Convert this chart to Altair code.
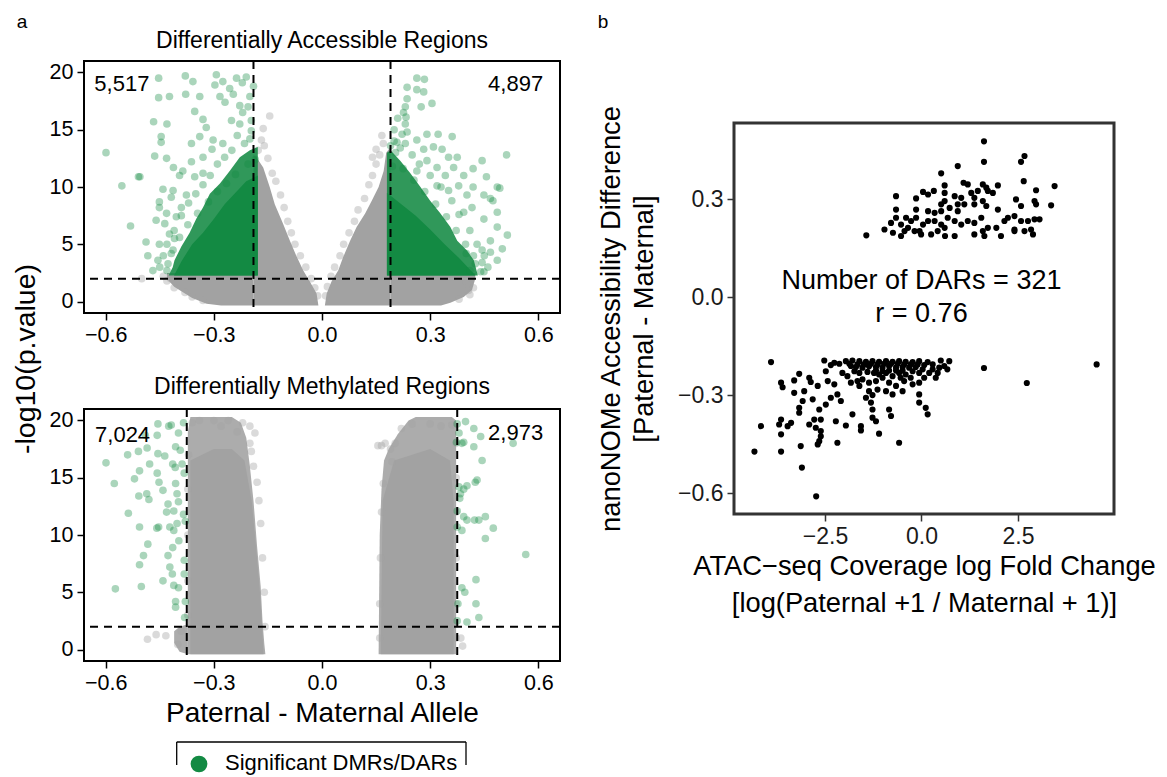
import altair as alt
import pandas as pd

FONT = "Liberation Sans"
GREEN = "#138a43"
GRAY_DENSE = "#a2a2a2"
GRAY_MID = "#acacac"

# ---------------- text / ticks ----------------
PANEL_TITLES = ["Differentially Accessible Regions", "Differentially Methylated Regions"]
Y_TITLE_LEFT = "-log10(p.value)"
VOLCANO_X_TICKS = [-0.6, -0.3, 0.0, 0.3, 0.6]
VOLCANO_Y_TICKS = [0, 5, 10, 15, 20]
DAR_COUNTS = [("5,517", -0.555, 19.0), ("4,897", 0.537, 19.0)]
DMR_COUNTS = [("7,024", -0.553, 18.7), ("2,973", 0.537, 18.9)]
DAR_CUTOFF = 0.19
DMR_CUTOFF = 0.375
P_CUTOFF = 2.0
SCATTER_X_TICKS = [-2.5, 0.0, 2.5]
SCATTER_Y_TICKS = [-0.6, -0.3, 0.0, 0.3]
SCATTER_NOTE = [("Number of DARs = 321", 0.0, 0.049), ("r = 0.76", 0.0, -0.052)]
LEGEND_LABEL = "Significant DMRs/DARs"

# ---------------- DAR volcano (top) ----------------
DAR_SIG_LEFT = [
    (-0.599, 13.0), (-0.555, 10.1), (-0.531, 6.6), (-0.509, 10.9), (-0.505, 10.9),
    (-0.453, 19.5), (-0.453, 17.8), (-0.423, 17.9), (-0.467, 15.7), (-0.446, 14.4),
    (-0.446, 13.9), (-0.430, 15.5), (-0.464, 12.7), (-0.431, 12.5), (-0.412, 11.7),
    (-0.379, 19.7), (-0.358, 19.2), (-0.378, 18.1), (-0.339, 17.9), (-0.353, 16.6),
    (-0.330, 15.9), (-0.321, 15.2), (-0.293, 19.8), (-0.297, 18.9), (-0.275, 19.2),
    (-0.237, 19.5), (-0.221, 19.1), (-0.200, 17.9), (-0.256, 18.6), (-0.246, 18.1),
    (-0.283, 17.9), (-0.269, 17.4), (-0.228, 17.1), (-0.251, 15.8), (-0.228, 15.5),
    (-0.196, 15.8), (-0.196, 14.9), (-0.302, 14.1), (-0.339, 14.4), (-0.362, 13.8),
    (-0.305, 13.3), (-0.275, 13.8), (-0.330, 12.6), (-0.362, 12.2), (-0.386, 11.4),
    (-0.353, 10.9), (-0.330, 11.2), (-0.395, 11.0), (-0.441, 9.8), (-0.413, 9.7),
    (-0.451, 8.7), (-0.451, 8.2), (-0.418, 9.1), (-0.376, 9.3), (-0.390, 8.2),
    (-0.460, 7.1), (-0.431, 7.7), (-0.436, 6.8), (-0.404, 7.4), (-0.488, 5.2),
    (-0.451, 5.0), (-0.483, 4.0), (-0.455, 3.6), (-0.469, 2.7), (-0.427, 3.3),
    (-0.413, 4.5), (-0.409, 5.5), (-0.423, 5.9),
    (-0.200, 14.2), (-0.215, 13.8), (-0.235, 14.5), (-0.250, 13.2), (-0.270, 12.6),
    (-0.290, 12.0), (-0.310, 11.0), (-0.330, 10.2), (-0.350, 9.4), (-0.370, 8.6),
    (-0.390, 7.5), (-0.410, 6.2), (-0.430, 5.0), (-0.440, 4.0), (-0.450, 3.0),
    (-0.430, 2.7), (-0.220, 16.5), (-0.205, 17.0), (-0.190, 18.8), (-0.210, 19.6),
    (-0.185, 12.4), (-0.205, 12.0), (-0.240, 11.1), (-0.265, 10.3), (-0.290, 9.6),
    (-0.315, 8.7), (-0.345, 7.7), (-0.372, 6.7), (-0.395, 5.6), (-0.418, 4.2),
]
DAR_SIG_RIGHT = [
    (0.263, 19.5), (0.284, 19.4), (0.236, 18.7), (0.263, 18.5), (0.282, 18.3),
    (0.305, 17.3), (0.275, 17.0), (0.236, 17.7), (0.231, 17.0), (0.226, 16.5),
    (0.233, 16.1), (0.231, 15.5), (0.236, 14.8), (0.208, 13.9), (0.231, 13.8),
    (0.263, 14.1), (0.291, 14.6), (0.322, 14.6), (0.361, 14.4), (0.282, 13.3),
    (0.309, 13.5), (0.333, 13.3), (0.351, 12.6), (0.375, 12.6), (0.291, 12.3),
    (0.319, 11.7), (0.263, 11.4), (0.379, 10.1), (0.351, 9.7), (0.444, 12.3),
    (0.419, 11.6), (0.456, 10.9), (0.419, 10.0), (0.449, 9.3), (0.486, 10.0),
    (0.493, 9.9), (0.512, 12.8), (0.467, 9.0), (0.474, 8.8), (0.402, 9.3),
    (0.416, 8.2), (0.393, 7.8), (0.449, 7.2), (0.486, 7.8), (0.486, 6.5),
    (0.514, 5.8), (0.467, 5.3), (0.500, 4.6), (0.467, 4.3), (0.486, 3.6),
    (0.444, 4.5), (0.444, 3.4), (0.449, 2.6), (0.425, 3.3), (0.400, 4.2),
    (0.365, 11.7), (0.342, 11.0), (0.393, 11.0), (0.319, 10.1), (0.222, 14.6),
    (0.217, 13.4), (0.204, 13.0),
    (0.200, 14.0), (0.200, 15.0), (0.210, 16.0), (0.190, 13.6), (0.250, 12.8),
    (0.270, 12.0), (0.300, 11.0), (0.330, 10.0), (0.360, 8.8), (0.380, 7.6),
    (0.410, 6.2), (0.430, 5.0), (0.450, 4.0), (0.460, 3.0), (0.440, 2.6), (0.410, 2.7),
    (0.195, 11.8), (0.225, 11.6), (0.255, 10.6), (0.285, 9.6), (0.315, 8.5),
    (0.345, 7.4), (0.372, 6.2), (0.398, 5.0), (0.420, 4.0),
]
DAR_NONSIG_EDGE = [
    (-0.145, 16.2), (-0.163, 15.1), (-0.168, 14.1), (-0.177, 13.2), (-0.160, 13.6),
    (-0.150, 12.5), (-0.138, 11.2), (-0.128, 10.5), (-0.115, 9.3), (-0.105, 8.2),
    (-0.095, 7.0), (-0.085, 6.0), (-0.075, 5.0), (-0.060, 4.0), (-0.045, 3.0),
    (-0.030, 2.0), (-0.020, 1.2), (-0.012, 0.5),
    (-0.500, 2.0), (-0.430, 1.8), (-0.410, 1.2), (-0.380, 0.8), (-0.360, 0.4),
    (-0.330, 0.1), (-0.440, 2.2), (-0.420, 2.0),
    (0.166, 14.5), (0.170, 13.8), (0.160, 12.8), (0.150, 12.0), (0.140, 11.0),
    (0.130, 10.2), (0.118, 9.0), (0.100, 8.0), (0.090, 7.0), (0.075, 6.0),
    (0.060, 5.0), (0.050, 4.0), (0.035, 3.0), (0.025, 2.2), (0.015, 1.3),
    (0.010, 0.5), (0.140, 12.6), (0.150, 13.3),
    (0.400, 1.8), (0.420, 1.2), (0.410, 0.6), (0.380, 0.2), (0.406, 0.96),
]
# dense clouds: (name, x, upper edge, lower edge)
DAR_GRAY_DENSE = [
    ("l", [-0.190, -0.182, -0.163, -0.145, -0.131, -0.108, -0.089, -0.070, -0.052, -0.033, -0.015, -0.010],
          [12.8, 12.6, 11.7, 10.0, 8.5, 6.8, 5.3, 3.9, 2.7, 1.7, 0.7, -0.35],
          [-0.35, -0.35, -0.35, -0.35, -0.35, -0.35, -0.35, -0.35, -0.35, -0.35, -0.35, -0.35]),
    ("lb", [-0.430, -0.410, -0.390, -0.360, -0.320, -0.280, -0.190],
           [2.5, 2.5, 2.5, 2.5, 2.5, 2.5, 2.5],
           [2.0, 1.3, 0.9, 0.3, -0.2, -0.35, -0.35]),
    ("r", [0.008, 0.013, 0.027, 0.045, 0.059, 0.078, 0.096, 0.120, 0.138, 0.157, 0.171, 0.178, 0.190],
          [-0.35, 0.7, 1.8, 2.7, 3.9, 5.3, 6.5, 7.7, 8.8, 10.0, 11.4, 13.0, 13.5],
          [-0.35, -0.35, -0.35, -0.35, -0.35, -0.35, -0.35, -0.35, -0.35, -0.35, -0.35, -0.35, -0.35]),
    ("rb", [0.190, 0.330, 0.356, 0.393, 0.416, 0.425],
           [2.5, 2.5, 2.5, 2.5, 2.5, 2.5],
           [-0.35, -0.35, -0.1, 0.4, 1.0, 2.0]),
]
DAR_GREEN_MID = [
    ("l", [-0.425, -0.414, -0.409, -0.390, -0.367, -0.349, -0.330, -0.311, -0.283, -0.256, -0.228, -0.200, -0.178],
          [2.3, 3.0, 3.6, 4.8, 6.0, 7.2, 8.2, 9.4, 10.3, 11.4, 12.6, 13.2, 13.5],
          [2.27, 2.27, 2.27, 2.27, 2.27, 2.27, 2.27, 2.27, 2.27, 2.27, 2.27, 2.27, 2.27]),
    ("r", [0.180, 0.190, 0.217, 0.245, 0.273, 0.300, 0.328, 0.356, 0.375, 0.402, 0.421, 0.432],
          [13.0, 13.2, 12.3, 11.2, 10.0, 8.8, 7.7, 6.5, 5.3, 4.45, 3.6, 2.3],
          [2.27, 2.27, 2.27, 2.27, 2.27, 2.27, 2.27, 2.27, 2.27, 2.27, 2.27, 2.27]),
]
DAR_GREEN_DENSE = [
    ("l", [-0.410, -0.390, -0.360, -0.330, -0.300, -0.270, -0.240, -0.210, -0.178],
          [2.3, 3.5, 5.0, 6.0, 7.2, 8.5, 9.5, 10.5, 11.0],
          [2.27, 2.27, 2.27, 2.27, 2.27, 2.27, 2.27, 2.27, 2.27]),
    ("r", [0.180, 0.220, 0.260, 0.300, 0.340, 0.380, 0.410, 0.425],
          [9.5, 8.5, 7.5, 6.3, 5.0, 3.8, 2.8, 2.3],
          [2.27, 2.27, 2.27, 2.27, 2.27, 2.27, 2.27, 2.27]),
]

# ---------------- DMR volcano (bottom) ----------------
DMR_SIG_LEFT = [
    (-0.599, 16.3), (-0.576, 14.5), (-0.573, 5.3), (-0.539, 17.0), (-0.537, 11.9),
    (-0.520, 14.9), (-0.509, 17.3), (-0.506, 15.6), (-0.506, 10.7), (-0.506, 7.4),
    (-0.501, 5.5), (-0.508, 13.4), (-0.490, 18.7), (-0.485, 17.6), (-0.478, 16.2),
    (-0.486, 13.6), (-0.480, 13.1), (-0.483, 9.2), (-0.495, 8.2), (-0.455, 19.7),
    (-0.457, 18.7), (-0.455, 17.1), (-0.457, 15.4), (-0.452, 14.6), (-0.453, 10.7),
    (-0.458, 10.6), (-0.441, 13.9), (-0.436, 16.9), (-0.425, 19.5), (-0.418, 19.6),
    (-0.431, 12.0), (-0.427, 8.2), (-0.422, 7.2), (-0.415, 6.6), (-0.441, 6.0),
    (-0.411, 5.6), (-0.406, 4.2), (-0.414, 16.2), (-0.407, 15.9), (-0.406, 17.7),
    (-0.406, 14.5), (-0.402, 13.6), (-0.398, 12.9), (-0.411, 12.1), (-0.402, 11.0),
    (-0.411, 10.4), (-0.397, 9.5), (-0.414, 8.9), (-0.393, 17.4), (-0.398, 18.9),
    (-0.384, 19.8), (-0.388, 16.2), (-0.382, 15.4), (-0.384, 11.8), (-0.379, 11.2),
    (-0.382, 7.8), (-0.382, 6.6), (-0.379, 4.2), (-0.398, 5.4), (-0.406, 3.7),
    (-0.381, 2.8), (-0.422, 10.7), (-0.427, 12.7),
]
DMR_SIG_RIGHT = [
    (0.375, 19.7), (0.398, 19.9), (0.421, 19.3), (0.380, 18.9), (0.373, 18.1),
    (0.388, 18.0), (0.393, 18.1), (0.421, 17.7), (0.440, 18.6), (0.530, 18.0),
    (0.444, 16.5), (0.380, 14.2), (0.393, 14.0), (0.402, 14.3), (0.425, 14.6),
    (0.430, 14.8), (0.384, 13.6), (0.382, 13.2), (0.375, 12.1), (0.393, 11.6),
    (0.402, 11.3), (0.423, 11.3), (0.435, 11.3), (0.453, 11.6), (0.375, 10.7),
    (0.388, 10.4), (0.475, 10.6), (0.453, 9.7), (0.565, 8.3), (0.427, 6.1),
    (0.388, 5.4), (0.396, 5.0), (0.377, 4.0), (0.427, 4.0), (0.375, 2.5),
    (0.402, 2.4), (0.435, 2.8),
]
DMR_NONSIG_EDGE = [
    (-0.484, 0.9), (-0.433, 1.2), (-0.400, 0.45), (-0.460, 1.3), (-0.390, 1.6),
    (-0.186, 18.9), (-0.200, 19.5), (-0.196, 17.3), (-0.180, 14.6), (-0.175, 13.0),
    (-0.170, 11.0), (-0.165, 8.0), (-0.160, 5.0), (-0.158, 2.0), (-0.360, 19.8),
    (-0.370, 17.0), (-0.372, 14.0), (-0.372, 10.0), (-0.372, 6.0), (-0.372, 3.0),
    (-0.200, 18.0), (-0.190, 16.0), (-0.340, 20.0), (-0.300, 20.0), (-0.260, 20.0),
    (-0.220, 19.8), (-0.235, 19.0), (-0.280, 19.5),
    (0.175, 18.0), (0.203, 18.0), (0.194, 16.4), (0.170, 14.5), (0.165, 12.0),
    (0.162, 8.0), (0.160, 4.0), (0.160, 1.0), (0.250, 19.7), (0.300, 19.7),
    (0.330, 19.5), (0.360, 19.6), (0.372, 18.0), (0.372, 15.0), (0.372, 12.0),
    (0.372, 8.0), (0.372, 4.0), (0.372, 1.0), (0.390, 0.3), (0.385, 1.0),
    (0.220, 19.3), (0.190, 17.5), (0.155, 17.8), (0.165, 17.8),
]
DMR_GRAY_MID = [
    ("l", [-0.372, -0.365, -0.300, -0.250, -0.225, -0.210, -0.200, -0.190, -0.180, -0.170, -0.165, -0.160, -0.157],
          [19.0, 20.3, 20.3, 20.3, 19.8, 18.5, 16.0, 13.0, 9.0, 5.5, 2.5, 0.5, -0.4],
          [-0.4, -0.4, -0.4, -0.4, -0.4, -0.4, -0.4, -0.4, -0.4, -0.4, -0.4, -0.4, -0.4]),
    ("l2", [-0.410, -0.395, -0.372], [1.6, 2.0, 2.2], [0.6, -0.2, -0.4]),
    ("r", [0.157, 0.160, 0.165, 0.172, 0.185, 0.210, 0.240, 0.260, 0.360, 0.372],
          [-0.4, 10.0, 14.0, 16.5, 17.5, 18.8, 20.0, 20.3, 20.3, 20.0],
          [-0.4, -0.4, -0.4, -0.4, -0.4, -0.4, -0.4, -0.4, -0.4, -0.4]),
]
DMR_GRAY_DENSE = [
    ("l", [-0.365, -0.300, -0.250, -0.215, -0.195, -0.183, -0.172, -0.166, -0.162],
          [16.5, 17.5, 17.5, 16.5, 13.0, 9.0, 5.0, 2.0, -0.4],
          [-0.4, -0.4, -0.4, -0.4, -0.4, -0.4, -0.4, -0.4, -0.4]),
    ("r", [0.163, 0.168, 0.200, 0.300, 0.355, 0.365],
          [-0.4, 13.0, 16.5, 17.5, 16.5, 13.0],
          [-0.4, -0.4, -0.4, -0.4, -0.4, -0.4]),
]

# ---------------- ATAC vs nanoNOMe scatter (right) ----------------
DARS_UPPER = [
    (-1.43, 0.189), (1.62, 0.477), (1.62, 0.414), (2.67, 0.432), (2.58, 0.414),
    (0.94, 0.401), (0.51, 0.379), (2.65, 0.355), (3.45, 0.340), (1.98, 0.342),
    (0.60, 0.342), (1.09, 0.350), (1.20, 0.345), (1.59, 0.345), (1.68, 0.335),
    (-0.66, 0.309), (-0.14, 0.302), (0.04, 0.322), (0.17, 0.314), (0.32, 0.325),
    (0.60, 0.319), (0.60, 0.294), (0.86, 0.309), (1.03, 0.304), (1.29, 0.319),
    (1.37, 0.304), (1.46, 0.325), (1.72, 0.325), (1.85, 0.319), (1.37, 0.284),
    (1.59, 0.294), (1.68, 0.279), (2.97, 0.327), (2.45, 0.299), (2.93, 0.294),
    (3.36, 0.281), (2.97, 0.284), (2.58, 0.279), (-0.66, 0.268), (-0.14, 0.268),
    (0.51, 0.284), (0.73, 0.273), (0.94, 0.284), (1.11, 0.284), (0.51, 0.263),
    (0.34, 0.258), (0.17, 0.263), (0.94, 0.263), (1.98, 0.268), (-0.66, 0.243),
    (-0.14, 0.243), (-0.40, 0.243), (-0.27, 0.233), (-0.53, 0.222), (-0.79, 0.227),
    (-0.96, 0.207), (-0.74, 0.197), (-0.53, 0.187), (-0.35, 0.212), (-0.18, 0.202),
    (-0.01, 0.192), (0.17, 0.233), (0.34, 0.233), (0.51, 0.222), (0.68, 0.243),
    (0.86, 0.233), (1.03, 0.222), (1.20, 0.233), (1.37, 0.227), (1.55, 0.243),
    (1.72, 0.212), (1.59, 0.202), (1.94, 0.212), (2.06, 0.187), (2.15, 0.233),
    (2.24, 0.243), (2.41, 0.248), (2.41, 0.207), (2.58, 0.233), (2.76, 0.233),
    (2.67, 0.202), (2.93, 0.238), (3.06, 0.238), (2.84, 0.207), (2.89, 0.192),
    (0.86, 0.187), (0.61, 0.187), (0.25, 0.192), (1.37, 0.192), (1.63, 0.187),
    (0.42, 0.202), (0.60, 0.212), (0.04, 0.222), (-0.05, 0.202), (-0.44, 0.202),
    (2.41, 0.202),
]
DARS_LOWER = [
    (-3.90, -0.199), (-2.52, -0.194), (-1.96, -0.196), (-1.79, -0.194), (-1.61, -0.196),
    (-1.44, -0.198), (-1.27, -0.196), (-1.10, -0.198), (-0.92, -0.196), (-0.75, -0.198),
    (-0.58, -0.196), (-0.41, -0.198), (-0.23, -0.199), (-0.06, -0.196), (0.16, -0.199),
    (0.50, -0.194), (0.72, -0.196), (0.67, -0.221), (0.46, -0.216), (-2.35, -0.208),
    (-1.83, -0.211), (-1.70, -0.214), (-1.53, -0.216), (-1.36, -0.212), (-1.18, -0.214),
    (-1.01, -0.216), (-0.84, -0.211), (-0.66, -0.216), (-0.49, -0.214), (-0.32, -0.216),
    (-0.15, -0.214), (0.03, -0.221), (0.29, -0.221), (-2.48, -0.227), (-2.05, -0.232),
    (-1.92, -0.242), (-1.61, -0.232), (-1.40, -0.229), (-1.23, -0.232), (-1.10, -0.237),
    (-0.92, -0.232), (-0.75, -0.242), (-0.58, -0.232), (-0.41, -0.237), (-0.28, -0.247),
    (-0.06, -0.232), (0.07, -0.247), (0.37, -0.247), (0.42, -0.232), (-2.43, -0.257),
    (-2.26, -0.267), (-3.17, -0.235), (-3.30, -0.255), (-3.64, -0.262), (-3.60, -0.276),
    (-2.91, -0.247), (-2.87, -0.260), (-2.69, -0.272), (-1.53, -0.252), (-1.36, -0.262),
    (-1.18, -0.257), (-0.84, -0.262), (-0.66, -0.272), (-0.45, -0.257), (-0.23, -0.267),
    (-0.06, -0.262), (-1.36, -0.288), (-1.14, -0.283), (-0.92, -0.288), (-1.61, -0.272),
    (-1.44, -0.308), (-1.27, -0.300), (-0.49, -0.288), (-0.75, -0.298), (-0.06, -0.298),
    (-3.04, -0.288), (-3.30, -0.293), (-3.08, -0.318), (-3.17, -0.339), (-3.17, -0.354),
    (-2.82, -0.313), (-2.65, -0.344), (-2.48, -0.329), (-2.35, -0.308), (-2.18, -0.298),
    (-2.09, -0.318), (-1.31, -0.323), (-1.27, -0.344), (-0.84, -0.344), (-0.79, -0.364),
    (-0.06, -0.323), (0.11, -0.339), (0.16, -0.359), (-1.79, -0.359), (-1.27, -0.369),
    (-1.18, -0.380), (-2.22, -0.380), (-1.96, -0.393), (-1.57, -0.395), (-1.57, -0.408),
    (-1.10, -0.418), (-2.78, -0.375), (-2.61, -0.375), (-2.74, -0.400), (-2.61, -0.410),
    (-2.61, -0.426), (-2.65, -0.441), (-2.69, -0.451), (-2.91, -0.390), (-2.18, -0.446),
    (-3.64, -0.375), (-3.69, -0.390), (-3.38, -0.385), (-3.47, -0.395), (-4.16, -0.395),
    (-3.64, -0.420), (-4.33, -0.473), (-3.64, -0.473), (-3.13, -0.456), (-3.10, -0.522),
    (-0.58, -0.446), (-2.26, -0.201), (-2.13, -0.204), (-1.87, -0.204), (-1.66, -0.206),
    (-1.49, -0.206), (-1.31, -0.204), (-1.14, -0.206), (-0.97, -0.204), (-0.79, -0.204),
    (-0.62, -0.204), (-0.45, -0.206), (-0.28, -0.206), (-0.10, -0.206), (0.07, -0.208),
    (-1.18, -0.225), (-1.01, -0.227), (-0.84, -0.225), (-0.66, -0.225), (-0.49, -0.225),
    (-0.23, -0.227), (0.20, -0.232), (-1.74, -0.227), (-1.83, -0.262), (-1.66, -0.257),
    (-1.01, -0.247), (-0.54, -0.247), (0.29, -0.206), (0.59, -0.211), (1.62, -0.217),
    (2.73, -0.263), (4.54, -0.206), (-2.73, -0.610),
]


# ---------------- helpers ----------------
def band_frame(polys):
    rows = []
    for name, xs, tops, bots in polys:
        for x, t, b in zip(xs, tops, bots):
            rows.append({"poly": name, "x": x, "y": t, "y2": b})
    return pd.DataFrame(rows)


def point_frame(pairs):
    return pd.DataFrame(pairs, columns=["x", "y"])


one = pd.DataFrame({"k": [0]})


def anchor(px, py):
    # invisible 1px marker that pins the layout bounds of a panel
    return alt.Chart(one).mark_point(shape="square", size=1, filled=True, opacity=0, strokeWidth=0).encode(
        x=alt.value(px), y=alt.value(py))


def label(text, px, py, size, align="center", baseline="middle", angle=0):
    return alt.Chart(pd.DataFrame({"t": [text]})).mark_text(
        font=FONT, fontSize=size, color="black", align=align, baseline=baseline, angle=angle
    ).encode(x=alt.value(px), y=alt.value(py), text="t:N")


def tick_axis(values, fmt, size, tick_color="black", label_color="black", **kw):
    return alt.Axis(values=values, format=fmt, domain=False, grid=False,
                    ticks=True, tickSize=7, tickWidth=1.5, tickColor=tick_color,
                    labelFontSize=size, labelFont=FONT, labelColor=label_color,
                    labelPadding=4, labelFlush=False, labelOverlap=False, **kw)


def volcano(sig, nonsig, gray_mid, gray_dense, green_mid, green_dense, cutoff, counts,
            xaxis, yaxis, extras):
    xs = alt.Scale(domain=[-0.66, 0.66], nice=False, zero=False)
    ys = alt.Scale(domain=[-1, 21], nice=False, zero=False)
    X = alt.X("x:Q", scale=xs, axis=xaxis)
    Y = alt.Y("y:Q", scale=ys, axis=yaxis)
    layers = []
    for polys, color in [(gray_mid, GRAY_MID), (gray_dense, GRAY_DENSE)]:
        if polys:
            layers.append(alt.Chart(band_frame(polys)).mark_area(color=color, opacity=1, interpolate="linear")
                          .encode(X, Y, y2=alt.Y2("y2:Q"), detail="poly:N"))
    layers.append(alt.Chart(point_frame(nonsig)).mark_circle(size=58, color=GRAY_DENSE, opacity=0.4)
                  .encode(X, Y))
    for polys, op in [(green_mid, 0.88), (green_dense, 1.0)]:
        if polys:
            layers.append(alt.Chart(band_frame(polys)).mark_area(color=GREEN, opacity=op, interpolate="linear")
                          .encode(X, Y, y2=alt.Y2("y2:Q"), detail="poly:N"))
    layers.append(alt.Chart(point_frame(sig)).mark_circle(size=58, color=GREEN, opacity=0.36)
                  .encode(X, Y))
    layers.append(alt.Chart(pd.DataFrame({"x": [-cutoff, cutoff]}))
                  .mark_rule(color="black", strokeWidth=2, strokeDash=[8, 6]).encode(X))
    layers.append(alt.Chart(pd.DataFrame({"y": [P_CUTOFF]}))
                  .mark_rule(color="black", strokeWidth=2, strokeDash=[8, 6]).encode(Y))
    layers.append(alt.Chart(pd.DataFrame(counts, columns=["t", "x", "y"]))
                  .mark_text(font=FONT, fontSize=22, color="black", align="center", baseline="middle")
                  .encode(X, Y, text="t:N"))
    layers.extend(extras)
    return alt.layer(*layers).properties(
        width=476, height=252,
        view=alt.ViewBackground(stroke="black", strokeWidth=2),
    )


# ---------------- first column: y title + panel letter ----------------
title_col = alt.layer(
    label("a", 13, -39, 19),
    label(Y_TITLE_LEFT, 17, 298, 28.5, angle=270),
).properties(width=32, height=500)

# ---------------- volcano panels ----------------
top_x_axis = tick_axis(VOLCANO_X_TICKS, ".1f", 21.5, title=None)
bottom_x_axis = tick_axis(VOLCANO_X_TICKS, ".1f", 21.5, title="Paternal - Maternal Allele",
                          titleFont=FONT, titleFontSize=28, titleFontWeight="normal", titleColor="black",
                          titleX=238, titleY=60, titleBaseline="alphabetic", titleAlign="center")
v_y_axis = tick_axis(VOLCANO_Y_TICKS, "d", 21.5, title=None)

dar = volcano(DAR_SIG_LEFT + DAR_SIG_RIGHT, DAR_NONSIG_EDGE, [], DAR_GRAY_DENSE,
              DAR_GREEN_MID, DAR_GREEN_DENSE, DAR_CUTOFF, DAR_COUNTS,
              top_x_axis, v_y_axis,
              [label(PANEL_TITLES[0], 238, -13, 23, baseline="alphabetic"),
               anchor(200, -51.5), anchor(-40.5, 100), anchor(507, 100), anchor(200, 292)])

legend_layers = [
    alt.Chart(one).mark_rule(color="black", strokeWidth=1.3).encode(
        x=alt.value(92.7), x2=alt.value(382), y=alt.value(333)),
    alt.Chart(one).mark_rule(color="black", strokeWidth=1.3).encode(
        x=alt.value(92.7), y=alt.value(333), y2=alt.value(356)),
    alt.Chart(one).mark_rule(color="black", strokeWidth=1.3).encode(
        x=alt.value(382), y=alt.value(333), y2=alt.value(356)),
    alt.Chart(one).mark_circle(size=280, color=GREEN, opacity=1).encode(
        x=alt.value(115), y=alt.value(355)),
    label(LEGEND_LABEL, 141, 361, 22, align="left", baseline="alphabetic"),
]
dmr = volcano(DMR_SIG_LEFT + DMR_SIG_RIGHT, DMR_NONSIG_EDGE, DMR_GRAY_MID, DMR_GRAY_DENSE,
              [], [], DMR_CUTOFF, DMR_COUNTS,
              bottom_x_axis, v_y_axis,
              [label(PANEL_TITLES[1], 238, -15, 23, baseline="alphabetic"),
               anchor(200, -40), anchor(-40.5, 100)] + legend_layers)

left_col = alt.vconcat(dar, dmr, spacing=12)

# ---------------- right panel (plot area starts 62px below the row top) ----------------
R_TOP = 62
R_H = 391
sx = alt.Scale(domain=[-4.86, 4.99], nice=False, zero=False)
sy = alt.Scale(domain=[-0.664, 0.533], nice=False, zero=False, range=[R_TOP + R_H, R_TOP])
rx_axis = tick_axis(SCATTER_X_TICKS, ".1f", 23, tick_color="#333333", label_color="#1a1a1a",
                    title=["ATAC\u2212seq Coverage log Fold Change", "[log(Paternal +1 / Maternal + 1)]"],
                    titleFont=FONT, titleFontSize=27.3, titleFontWeight="normal", titleColor="black",
                    titleX=190, titleY=60, titleBaseline="alphabetic", titleAlign="center",
                    titleLineHeight=37)
ry_axis = tick_axis(SCATTER_Y_TICKS, ".1f", 23, tick_color="#333333", label_color="#1a1a1a",
                    title=["nanoNOMe Accessibility Difference", "[Paternal - Maternal]"],
                    titleFont=FONT, titleFontSize=27.3, titleFontWeight="normal", titleColor="black",
                    titleAngle=270, titleX=-114.5, titleY=R_TOP + 195.5, titleBaseline="alphabetic",
                    titleAlign="center", titleLineHeight=33)
RX = alt.X("x:Q", scale=sx, axis=rx_axis)
RY = alt.Y("y:Q", scale=sy, axis=ry_axis)

scatter_pts = alt.Chart(point_frame(DARS_UPPER + DARS_LOWER)).mark_circle(
    size=38, color="black", opacity=1).encode(RX, RY)
scatter_note = alt.Chart(pd.DataFrame(SCATTER_NOTE, columns=["t", "x", "y"])).mark_text(
    font=FONT, fontSize=27, color="black", align="center", baseline="middle"
).encode(RX, RY, text="t:N")
scatter_frame = alt.Chart(one).mark_rect(fill="transparent", stroke="#333333", strokeWidth=3).encode(
    x=alt.value(0), x2=alt.value(380), y=alt.value(R_TOP), y2=alt.value(R_TOP + R_H))

right = alt.layer(
    scatter_pts, scatter_note, scatter_frame, label("b", -131, -39, 19),
    anchor(-140, 200),
).properties(width=380, height=R_TOP + R_H)

chart = alt.hconcat(title_col, left_col, right, spacing=0).properties(
    padding={"left": 0, "top": 0, "right": 0, "bottom": 0},
    background="white",
).configure_view(stroke="transparent").configure_text(font=FONT)

chart.save("out.html", embed_options={"renderer": "svg", "actions": False})
